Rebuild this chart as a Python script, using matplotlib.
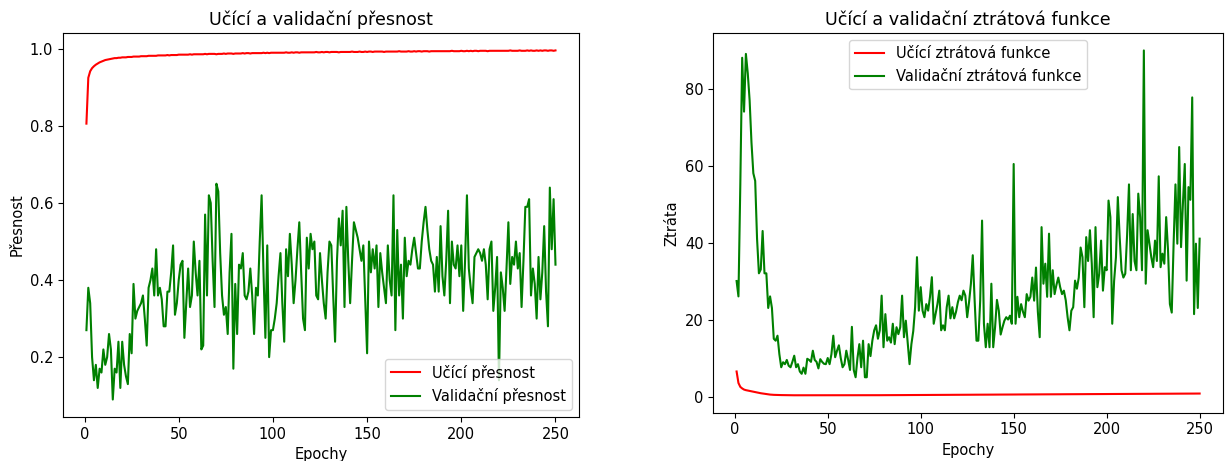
import matplotlib
matplotlib.use("Agg")
import matplotlib.pyplot as plt

# =========================
# DATA
# =========================
epochy = list(range(1, 251))

ucici_presnost = [
    0.806, 0.925, 0.942, 0.950, 0.955, 0.959, 0.962, 0.965, 0.967, 0.969,
    0.971, 0.972, 0.973, 0.974, 0.975, 0.976, 0.976, 0.977, 0.977, 0.978,
    0.978, 0.978, 0.979, 0.979, 0.979, 0.980, 0.980, 0.980, 0.980, 0.981,
    0.981, 0.981, 0.981, 0.982, 0.982, 0.982, 0.982, 0.982, 0.983, 0.983,
    0.983, 0.983, 0.983, 0.984, 0.983, 0.984, 0.984, 0.984, 0.984, 0.985,
    0.985, 0.985, 0.985, 0.985, 0.985, 0.986, 0.985, 0.986, 0.986, 0.986,
    0.986, 0.986, 0.986, 0.987, 0.986, 0.987, 0.987, 0.987, 0.987, 0.986,
    0.987, 0.987, 0.987, 0.988, 0.987, 0.988, 0.988, 0.988, 0.987, 0.988,
    0.988, 0.988, 0.988, 0.989, 0.988, 0.989, 0.989, 0.988, 0.989, 0.989,
    0.989, 0.989, 0.989, 0.989, 0.990, 0.989, 0.990, 0.989, 0.990, 0.990,
    0.990, 0.990, 0.990, 0.990, 0.990, 0.990, 0.991, 0.990, 0.990, 0.991,
    0.990, 0.991, 0.991, 0.990, 0.991, 0.991, 0.991, 0.991, 0.991, 0.991,
    0.991, 0.991, 0.992, 0.991, 0.991, 0.992, 0.991, 0.992, 0.992, 0.991,
    0.992, 0.992, 0.992, 0.992, 0.991, 0.992, 0.992, 0.992, 0.992, 0.992,
    0.992, 0.993, 0.992, 0.992, 0.992, 0.993, 0.992, 0.992, 0.993, 0.992,
    0.993, 0.993, 0.992, 0.993, 0.993, 0.993, 0.993, 0.993, 0.992, 0.993,
    0.993, 0.993, 0.993, 0.993, 0.993, 0.993, 0.994, 0.993, 0.993, 0.993,
    0.993, 0.994, 0.993, 0.993, 0.994, 0.993, 0.994, 0.994, 0.993, 0.994,
    0.994, 0.994, 0.993, 0.994, 0.994, 0.994, 0.994, 0.994, 0.994, 0.994,
    0.994, 0.994, 0.994, 0.994, 0.995, 0.994, 0.994, 0.994, 0.994, 0.995,
    0.994, 0.994, 0.995, 0.994, 0.995, 0.994, 0.995, 0.995, 0.994, 0.995,
    0.995, 0.995, 0.995, 0.994, 0.995, 0.995, 0.995, 0.995, 0.995, 0.995,
    0.995, 0.995, 0.995, 0.995, 0.995, 0.996, 0.995, 0.995, 0.995, 0.995,
    0.996, 0.995, 0.995, 0.995, 0.996, 0.995, 0.996, 0.995, 0.995, 0.996,
    0.995, 0.996, 0.995, 0.996, 0.996, 0.995, 0.996, 0.996, 0.995, 0.996,
]

validacni_presnost = [
    0.27, 0.38, 0.34, 0.20, 0.14, 0.18, 0.12, 0.17, 0.16, 0.22,
    0.18, 0.20, 0.26, 0.22, 0.09, 0.17, 0.16, 0.24, 0.12, 0.24,
    0.18, 0.15, 0.13, 0.26, 0.21, 0.39, 0.30, 0.32, 0.33, 0.34,
    0.36, 0.30, 0.23, 0.38, 0.40, 0.43, 0.36, 0.48, 0.36, 0.38,
    0.35, 0.28, 0.28, 0.37, 0.37, 0.42, 0.49, 0.31, 0.34, 0.40,
    0.44, 0.45, 0.25, 0.34, 0.43, 0.33, 0.36, 0.50, 0.42, 0.36,
    0.45, 0.22, 0.23, 0.57, 0.36, 0.62, 0.60, 0.45, 0.33, 0.65,
    0.63, 0.47, 0.36, 0.31, 0.33, 0.26, 0.42, 0.52, 0.17, 0.39,
    0.26, 0.44, 0.43, 0.47, 0.36, 0.35, 0.37, 0.43, 0.36, 0.26,
    0.38, 0.36, 0.50, 0.62, 0.42, 0.25, 0.49, 0.20, 0.27, 0.27,
    0.30, 0.34, 0.41, 0.47, 0.34, 0.24, 0.48, 0.41, 0.52, 0.44,
    0.34, 0.40, 0.48, 0.55, 0.42, 0.30, 0.27, 0.51, 0.43, 0.52,
    0.48, 0.50, 0.36, 0.35, 0.47, 0.40, 0.34, 0.30, 0.42, 0.50,
    0.49, 0.36, 0.24, 0.45, 0.56, 0.49, 0.58, 0.33, 0.59, 0.45,
    0.34, 0.45, 0.55, 0.53, 0.51, 0.48, 0.45, 0.49, 0.35, 0.21,
    0.50, 0.42, 0.48, 0.43, 0.49, 0.33, 0.47, 0.42, 0.38, 0.34,
    0.49, 0.40, 0.36, 0.62, 0.27, 0.53, 0.36, 0.44, 0.30, 0.51,
    0.41, 0.45, 0.44, 0.48, 0.51, 0.47, 0.43, 0.43, 0.50, 0.55,
    0.59, 0.53, 0.48, 0.45, 0.44, 0.37, 0.46, 0.37, 0.54, 0.41,
    0.36, 0.45, 0.58, 0.34, 0.50, 0.44, 0.43, 0.49, 0.41, 0.49,
    0.32, 0.45, 0.62, 0.43, 0.38, 0.34, 0.46, 0.47, 0.48, 0.47,
    0.45, 0.48, 0.44, 0.35, 0.48, 0.50, 0.32, 0.38, 0.46, 0.14,
    0.42, 0.38, 0.32, 0.43, 0.55, 0.39, 0.46, 0.44, 0.50, 0.43,
    0.47, 0.33, 0.45, 0.59, 0.59, 0.61, 0.36, 0.43, 0.39, 0.30,
    0.46, 0.35, 0.42, 0.54, 0.37, 0.28, 0.64, 0.48, 0.61, 0.44,
]

ucici_ztrata = [
    6.5, 3.5, 2.5, 2.1, 1.8, 1.65, 1.55, 1.45, 1.35, 1.25,
    1.15, 1.05, 0.95, 0.85, 0.78, 0.70, 0.62, 0.56, 0.50, 0.46,
    0.43, 0.41, 0.40, 0.38, 0.37, 0.36, 0.35, 0.34, 0.34, 0.33,
    0.33, 0.32, 0.32, 0.31, 0.31, 0.31, 0.30, 0.30, 0.30, 0.30,
    0.30, 0.30, 0.30, 0.30, 0.30, 0.30, 0.30, 0.30, 0.30, 0.30,
    0.30, 0.30, 0.30, 0.30, 0.31, 0.31, 0.31, 0.31, 0.31, 0.31,
    0.31, 0.31, 0.32, 0.32, 0.32, 0.32, 0.32, 0.32, 0.33, 0.33,
    0.33, 0.33, 0.33, 0.34, 0.34, 0.34, 0.34, 0.34, 0.35, 0.35,
    0.35, 0.35, 0.35, 0.36, 0.36, 0.36, 0.36, 0.37, 0.37, 0.37,
    0.37, 0.38, 0.38, 0.38, 0.38, 0.39, 0.39, 0.39, 0.39, 0.40,
    0.40, 0.40, 0.40, 0.41, 0.41, 0.41, 0.41, 0.42, 0.42, 0.42,
    0.42, 0.43, 0.43, 0.43, 0.43, 0.44, 0.44, 0.44, 0.44, 0.45,
    0.45, 0.45, 0.45, 0.46, 0.46, 0.46, 0.46, 0.47, 0.47, 0.47,
    0.47, 0.48, 0.48, 0.48, 0.48, 0.49, 0.49, 0.49, 0.49, 0.50,
    0.50, 0.50, 0.50, 0.51, 0.51, 0.51, 0.51, 0.52, 0.52, 0.52,
    0.52, 0.53, 0.53, 0.53, 0.53, 0.54, 0.54, 0.54, 0.54, 0.55,
    0.55, 0.55, 0.55, 0.56, 0.56, 0.56, 0.56, 0.57, 0.57, 0.57,
    0.57, 0.58, 0.58, 0.58, 0.58, 0.59, 0.59, 0.59, 0.59, 0.60,
    0.60, 0.60, 0.60, 0.61, 0.61, 0.61, 0.61, 0.62, 0.62, 0.62,
    0.62, 0.63, 0.63, 0.63, 0.63, 0.64, 0.64, 0.64, 0.64, 0.65,
    0.65, 0.65, 0.65, 0.66, 0.66, 0.66, 0.66, 0.67, 0.67, 0.67,
    0.67, 0.68, 0.68, 0.68, 0.68, 0.69, 0.69, 0.69, 0.69, 0.70,
    0.70, 0.70, 0.70, 0.71, 0.71, 0.71, 0.71, 0.72, 0.72, 0.72,
    0.72, 0.73, 0.73, 0.73, 0.73, 0.74, 0.74, 0.74, 0.74, 0.75,
    0.75, 0.75, 0.75, 0.76, 0.76, 0.76, 0.76, 0.77, 0.77, 0.77,
]

validacni_ztrata = [
    30.0, 26.0, 55.0, 88.0, 74.0, 89.0, 84.0, 77.0, 66.0, 58.0,
    56.0, 41.0, 32.0, 33.0, 43.0, 32.0, 32.0, 23.0, 26.0, 23.0,
    15.0, 14.5, 15.8, 11.0, 7.6, 8.9, 8.4, 9.5, 8.0, 7.6,
    9.0, 10.6, 7.6, 8.4, 6.5, 5.9, 7.5, 5.9, 9.8, 9.5,
    9.0, 11.9, 9.5, 9.0, 7.3, 9.7, 9.0, 8.5, 8.4, 10.0,
    8.4, 11.0, 15.8, 10.2, 11.9, 13.3, 10.0, 7.6, 8.4, 11.9,
    9.5, 6.9, 18.1, 6.9, 5.0, 10.0, 13.6, 7.6, 14.5, 5.0,
    5.0, 13.6, 10.5, 14.5, 17.2, 18.5, 15.0, 17.2, 26.2, 12.8,
    21.4, 14.5, 15.4, 14.0, 18.9, 13.6, 18.0, 16.2, 18.0, 26.2,
    15.4, 19.7, 14.0, 8.4, 13.6, 17.0, 23.2, 36.2, 22.3, 28.4,
    22.3, 20.6, 24.0, 22.3, 25.9, 31.0, 18.9, 21.4, 24.0, 27.5,
    17.2, 18.5, 17.2, 23.2, 26.2, 20.3, 23.2, 20.3, 22.0, 24.5,
    26.2, 25.0, 27.5, 26.2, 20.6, 24.5, 29.3, 36.7, 25.0, 14.5,
    14.5, 25.0, 45.7, 18.9, 12.8, 18.9, 12.8, 29.3, 12.8, 18.0,
    25.1, 22.3, 16.1, 18.0, 19.7, 20.6, 20.0, 21.0, 18.9, 60.4,
    18.9, 25.9, 20.6, 24.0, 22.0, 20.6, 26.6, 24.9, 25.9, 30.9,
    24.9, 33.5, 22.0, 15.4, 44.0, 29.3, 34.5, 25.9, 42.3, 25.9,
    32.8, 26.6, 29.0, 30.9, 28.4, 26.6, 27.5, 25.0, 20.6, 17.2,
    22.3, 23.2, 30.1, 28.0, 30.9, 38.7, 36.2, 23.2, 41.4, 35.2,
    43.2, 34.5, 20.6, 44.0, 28.4, 31.9, 40.5, 27.5, 33.6, 32.8,
    50.9, 46.6, 18.9, 30.0, 36.2, 51.8, 41.4, 32.8, 30.9, 31.9,
    42.0, 55.1, 32.8, 47.4, 35.2, 32.8, 52.7, 46.6, 32.8, 89.9,
    29.3, 43.2, 39.7, 36.2, 33.6, 40.5, 35.2, 57.2, 33.6, 37.1,
    34.5, 46.6, 38.0, 24.0, 21.8, 39.7, 55.1, 39.7, 64.8, 38.8,
    50.0, 60.4, 30.1, 54.4, 51.1, 77.7, 21.4, 39.7, 23.0, 41.0,
]

# =========================
# GRAF
# =========================
plt.rcParams['font.size'] = 10.5

fig = plt.figure(figsize=(12.25, 4.61), dpi=100)
ax1 = fig.add_axes([0.0514, 0.0955, 0.4212, 0.833])
ax2 = fig.add_axes([0.5824, 0.105, 0.4158, 0.823])

ax1.plot(epochy, ucici_presnost, color='red', label='Učící přesnost')
ax1.plot(epochy, validacni_presnost, color='green', label='Validační přesnost')
ax1.set_title('Učící a validační přesnost')
ax1.set_xlabel('Epochy')
ax1.set_ylabel('Přesnost')
ax1.legend(loc='lower right')

ax2.plot(epochy, ucici_ztrata, color='red', label='Učící ztrátová funkce')
ax2.plot(epochy, validacni_ztrata, color='green', label='Validační ztrátová funkce')
ax2.set_title('Učící a validační ztrátová funkce')
ax2.set_xlabel('Epochy')
ax2.set_ylabel('Ztráta')
ax2.legend(loc='upper center')

fig.savefig('out.png', dpi=100)
